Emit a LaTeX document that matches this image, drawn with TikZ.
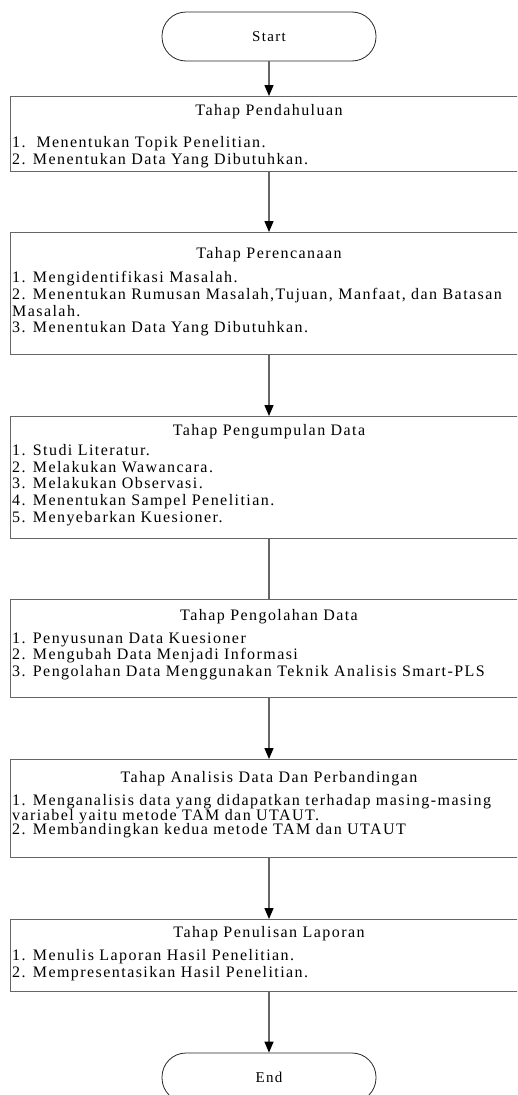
\documentclass[tikz,border=0pt]{standalone}
\usepackage{fontspec}
\setmainfont{Liberation Serif}[LetterSpace=9]
\usetikzlibrary{arrows.meta,positioning}

\begin{document}
\begin{tikzpicture}[x=1pt, y=-1pt,
        term/.style={draw=black!85, line width=0.8pt, rounded corners=24pt,
                     minimum width=214pt, minimum height=49pt, inner sep=0pt,
                     font=\fontsize{15}{16}\selectfont},
        stagebox/.style={draw=black!60, line width=1.3pt, anchor=north west,
                         minimum width=532pt, inner sep=0pt},
        stagetitle/.style={anchor=base, inner sep=0pt, font=\fontsize{16}{17}\selectfont},
        steplist/.style={anchor=north west, align=left, inner sep=0pt,
                         font=\fontsize{16}{16.7}\selectfont},
        arr/.style={-{Triangle[length=11pt, width=9pt, color=black]}, line width=1.3pt, black!60}
      ]
        \useasboundingbox (0,0) rectangle (517,1095);
        \clip (0,0) rectangle (517,1095);

        \node[term] (start) at (269, 36.5) {Start};

        \node[stagebox, minimum height=75pt] (s1) at (10, 96) {};
        \node[stagetitle] (s1t) at (269, 115) {Tahap Pendahuluan};
        \node[steplist] (s1l) at (12, 136.2) {1.~~Menentukan Topik Penelitian.\\2. Menentukan Data Yang Dibutuhkan.};

        \node[stagebox, minimum height=122pt] (s2) at (10, 232) {};
        \node[stagetitle] (s2t) at (269, 258) {Tahap Perencanaan};
        \node[steplist] (s2l) at (12, 271.2) {1. Mengidentifikasi Masalah.\\2. Menentukan Rumusan Masalah,Tujuan, Manfaat, dan Batasan\\Masalah.\\3. Menentukan Data Yang Dibutuhkan.};

        \node[stagebox, minimum height=122pt] (s3) at (10, 416) {};
        \node[stagetitle] (s3t) at (269, 435) {Tahap Pengumpulan Data};
        \node[steplist] (s3l) at (12, 444.2) {1. Studi Literatur.\\2. Melakukan Wawancara.\\3. Melakukan Observasi.\\4. Menentukan Sampel Penelitian.\\5. Menyebarkan Kuesioner.};

        \node[stagebox, minimum height=98pt] (s4) at (10, 599) {};
        \node[stagetitle] (s4t) at (269, 620) {Tahap Pengolahan Data};
        \node[steplist] (s4l) at (12, 632.2) {1. Penyusunan Data Kuesioner\\2. Mengubah Data Menjadi Informasi\\3. Pengolahan Data Menggunakan Teknik Analisis Smart-PLS};

        \node[stagebox, minimum height=98pt] (s5) at (10, 759) {};
        \node[stagetitle] (s5t) at (269, 782) {Tahap Analisis Data Dan Perbandingan};
        \node[steplist, font=\fontsize{16}{14.6}\selectfont] (s5l) at (12, 794.2) {1. Menganalisis data yang didapatkan terhadap masing-masing\\variabel yaitu metode TAM dan UTAUT.\\2. Membandingkan kedua metode TAM dan UTAUT};

        \node[stagebox, minimum height=72pt] (s6) at (10, 919) {};
        \node[stagetitle] (s6t) at (269, 937) {Tahap Penulisan Laporan};
        \node[steplist] (s6l) at (12, 949.2) {1. Menulis Laporan Hasil Penelitian.\\2. Mempresentasikan Hasil Penelitian.};

        \node[term] (end) at (269, 1077.5) {End};

        \draw[arr] (start.south) -- (start.south |- s1.north);
        \draw[arr] (start.south |- s1.south) -- (start.south |- s2.north);
        \draw[arr] (start.south |- s2.south) -- (start.south |- s3.north);
        \draw[line width=1.3pt, black!60] (start.south |- s3.south) -- (start.south |- s4.north);
        \draw[arr] (start.south |- s4.south) -- (start.south |- s5.north);
        \draw[arr] (start.south |- s5.south) -- (start.south |- s6.north);
        \draw[arr] (start.south |- s6.south) -- (end.north);
      \end{tikzpicture}
\end{document}
